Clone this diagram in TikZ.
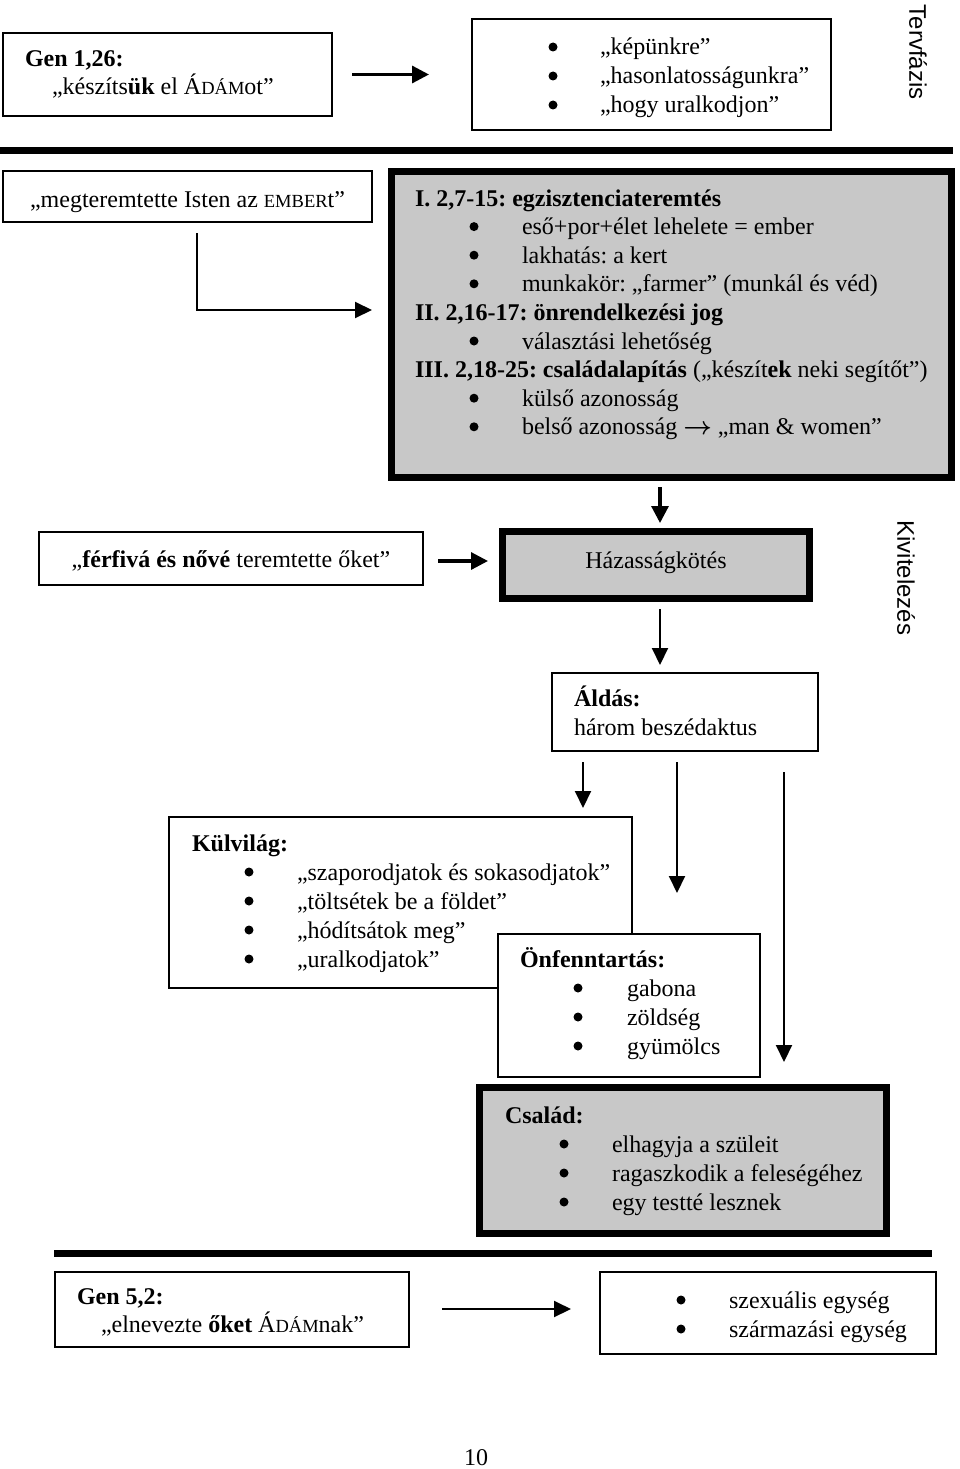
\documentclass[tikz,border=0pt]{standalone}
\usepackage{amsmath}
\usepackage{fontspec}
\setmainfont{Liberation Serif}
\newfontfamily\sansf{Liberation Sans}
\usetikzlibrary{arrows.meta}
\definecolor{boxgray}{RGB}{200,200,200}
\newcommand\smc[1]{{\fontsize{18.5}{29}\selectfont #1}}
\frenchspacing
\begin{document}
\begin{tikzpicture}[x=1pt,y=-1pt,
  every node/.style={font=\fontsize{24}{29}\selectfont, inner sep=0pt, outer sep=0pt},
  box/.style={draw, line width=2.4pt, fill=white, anchor=north west},
  gbox/.style={draw, line width=7pt, fill=boxgray, anchor=north west},
  txt/.style={anchor=base west},
  ctxt/.style={anchor=base},
  bul/.style={circle, fill=black, minimum size=9pt, anchor=center},
  side/.style={font=\fontsize{24}{29}\selectfont\sansf, rotate=-90, anchor=center},
  arr/.style={line width=2pt, -{Triangle[length=17pt,width=16pt]}},
  arrb/.style={line width=3.2pt, -{Triangle[length=17pt,width=17pt]}},
  sep/.style={line width=7pt}
]
\useasboundingbox (0,0) rectangle (960,1469);
\fill[white] (0,0) rectangle (960,1469);

% ---------- Tervfázis ----------
\node[box, minimum width=329pt, minimum height=83pt] (gen1) at (3,33) {};
\node[txt] (gen1a) at (25,67) {\textbf{Gen 1,26:}};
\node[txt] (gen1b) at (52,95) {„készíts\textbf{ük} el Á\smc{DÁM}ot”};

\node[box, minimum width=359pt, minimum height=111pt] (terv) at (472,19) {};
\node[bul] (tb1) at (553,47) {};
\node[bul] (tb2) at (553,76) {};
\node[bul] (tb3) at (553,105) {};
\node[txt] (tt1) at (600,55) {„képünkre”};
\node[txt] (tt2) at (600,84) {„hasonlatosságunkra”};
\node[txt] (tt3) at (600,113) {„hogy uralkodjon”};

\node[side] (tervfazis) at (918,52) {Tervfázis};

\draw[arrb] ([xshift=20pt]gen1.east) -- ([xshift=-43pt]terv.west);

\coordinate (s1a) at (0,150);
\coordinate (s1b) at (953,150);
\draw[sep] (s1a) -- (s1b);

% ---------- Kivitelezés ----------
\node[box, minimum width=369pt, minimum height=51pt] (megt) at (3,171) {};
\node[ctxt] (megtt) at (187.5,207) {„megteremtette Isten az \smc{EMBER}t”};

\node[gbox, minimum width=560pt, minimum height=306pt] (szak) at (391,171) {};
\node[txt] (h1) at (415,206) {\textbf{I. 2,7-15: egzisztenciateremtés}};
\node[bul] (sb1) at (474,226.6) {};
\node[txt] (st1) at (522,234.6) {eső+por+élet lehelete = ember};
\node[bul] (sb2) at (474,255.2) {};
\node[txt] (st2) at (522,263.2) {lakhatás: a kert};
\node[bul] (sb3) at (474,283.8) {};
\node[txt] (st3) at (522,291.8) {munkakör: „farmer” (munkál és véd)};
\node[txt] (h2) at (415,320.4) {\textbf{II. 2,16-17: önrendelkezési jog}};
\node[bul] (sb4) at (474,341) {};
\node[txt] (st4) at (522,349) {választási lehetőség};
\node[txt] (h3) at (415,377.6) {\textbf{III. 2,18-25: családalapítás} („készít\textbf{ek} neki segítőt”)};
\node[bul] (sb5) at (474,398.2) {};
\node[txt] (st5) at (522,406.2) {külső azonosság};
\node[bul] (sb6) at (474,426.8) {};
\node[txt] (st6) at (522,434.8) {belső azonosság $\boldsymbol{\rightarrow}$ „man \& women”};

\coordinate (c1) at (197,233);
\coordinate (c2) at (372,310);
\draw[arr] (c1) |- (c2);

\node[box, minimum width=384pt, minimum height=53pt] (ferfi) at (39,532) {};
\node[ctxt] (ferfit) at (231,567) {„\textbf{férfivá és nővé} teremtette őket”};

\node[gbox, minimum width=307pt, minimum height=67pt] (hazas) at (502.5,531.5) {};
\node[ctxt] (hazast) at (656,568) {Házasságkötés};

\node[side] (kivit) at (906,578) {Kivitelezés};

\coordinate (a3s) at (660,487);
\coordinate (a3e) at (660,523);
\draw[arrb] (a3s) -- (a3e);
\coordinate (a4s) at (438,561);
\coordinate (a4e) at (488,561);
\draw[arrb] (a4s) -- (a4e);

\node[box, minimum width=266pt, minimum height=78pt] (aldas) at (552,673) {};
\node[txt] (aldas1) at (574,706) {\textbf{Áldás:}};
\node[txt] (aldas2) at (574,735) {három beszédaktus};

\coordinate (a5s) at (660,609);
\coordinate (a5e) at (660,665);
\draw[arr] (a5s) -- (a5e);

\node[box, minimum width=463pt, minimum height=171pt] (kulv) at (169,817) {};
\node[txt] (kh) at (192,851) {\textbf{Külvilág:}};
\node[bul] (kb1) at (249,872) {};
\node[txt] (kt1) at (297,880) {„szaporodjatok és sokasodjatok”};
\node[bul] (kb2) at (249,901) {};
\node[txt] (kt2) at (297,909) {„töltsétek be a földet”};
\node[bul] (kb3) at (249,930) {};
\node[txt] (kt3) at (297,938) {„hódítsátok meg”};
\node[bul] (kb4) at (249,959) {};
\node[txt] (kt4) at (297,967) {„uralkodjatok”};

\node[box, minimum width=262pt, minimum height=143pt] (onf) at (498,934) {};
\node[txt] (oh) at (520,967) {\textbf{Önfenntartás:}};
\node[bul] (ob1) at (578,988) {};
\node[txt] (ot1) at (627,996) {gabona};
\node[bul] (ob2) at (578,1017) {};
\node[txt] (ot2) at (627,1025) {zöldség};
\node[bul] (ob3) at (578,1046) {};
\node[txt] (ot3) at (627,1054) {gyümölcs};

\coordinate (a6s) at (583,762);
\coordinate (a6e) at (583,808);
\draw[arr] (a6s) -- (a6e);
\coordinate (a7s) at (677,762);
\coordinate (a7e) at (677,893);
\draw[arr] (a7s) -- (a7e);
\coordinate (a8s) at (784,772);
\coordinate (a8e) at (784,1062);
\draw[arr] (a8s) -- (a8e);

\node[gbox, minimum width=407pt, minimum height=146pt] (csalad) at (479.5,1087.5) {};
\node[txt] (ch) at (505,1123) {\textbf{Család:}};
\node[bul] (cb1) at (564,1144) {};
\node[txt] (ct1) at (612,1152) {elhagyja a szüleit};
\node[bul] (cb2) at (564,1173) {};
\node[txt] (ct2) at (612,1181) {ragaszkodik a feleségéhez};
\node[bul] (cb3) at (564,1202) {};
\node[txt] (ct3) at (612,1210) {egy testté lesznek};

\coordinate (s2a) at (54,1253);
\coordinate (s2b) at (932,1253);
\draw[sep] (s2a) -- (s2b);

% ---------- Gen 5,2 ----------
\node[box, minimum width=354pt, minimum height=75pt] (gen5) at (55,1272) {};
\node[txt] (gen5a) at (77,1304) {\textbf{Gen 5,2:}};
\node[txt] (gen5b) at (101,1332) {„elnevezte \textbf{őket} Á\smc{DÁM}nak”};

\node[box, minimum width=336pt, minimum height=82pt] (egys) at (600,1272) {};
\node[bul] (eb1) at (681,1300) {};
\node[txt] (et1) at (729,1308) {szexuális egység};
\node[bul] (eb2) at (681,1329) {};
\node[txt] (et2) at (729,1337) {származási egység};

\coordinate (a9s) at (442,1309);
\coordinate (a9e) at (571,1309);
\draw[arr] (a9s) -- (a9e);

\node[ctxt] (page) at (476,1465) {10};
\end{tikzpicture}
\end{document}
